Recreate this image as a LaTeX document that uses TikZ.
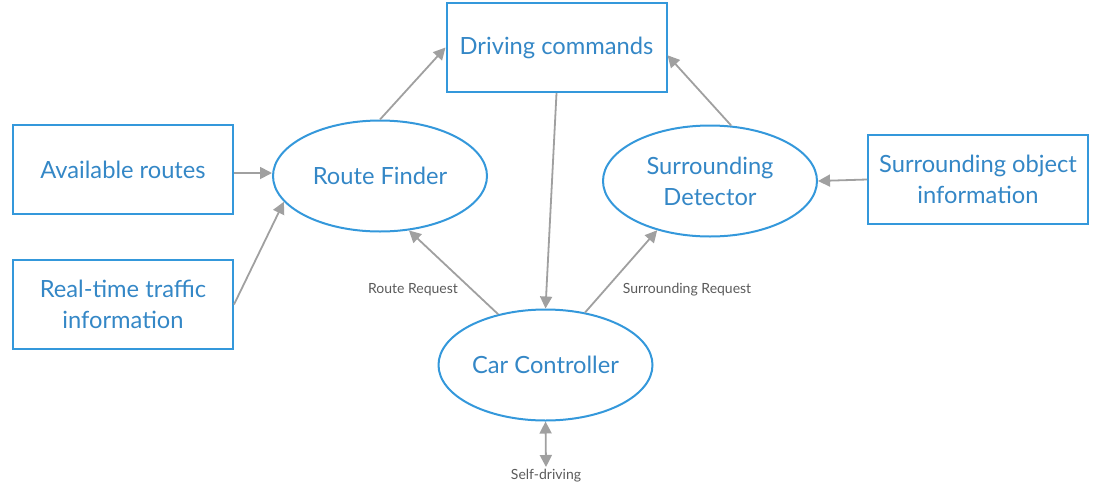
\documentclass[tikz,border=0pt]{standalone}
\usepackage{fontspec}
\setmainfont{Lato}
\usepackage{xcolor}
\usepackage{tikz}
\usetikzlibrary{arrows.meta,positioning,calc,shapes.geometric}
\definecolor{lineblue}{HTML}{3498DB}
\definecolor{textblue}{HTML}{3487C6}
\definecolor{arrowgray}{HTML}{A0A0A0}
\definecolor{labelgray}{HTML}{5A5A5A}
\tikzset{box/.style={draw=lineblue,line width=2pt,minimum width=220pt,minimum height=89pt,
    text=textblue,font=\fontsize{23.7}{31}\selectfont,align=center,inner sep=0pt}}
\tikzset{proc/.style={ellipse,draw=lineblue,line width=2pt,minimum width=214pt,minimum height=111pt,
    text=textblue,font=\fontsize{23.7}{31}\selectfont,align=center,inner sep=0pt}}
\tikzset{lbl/.style={text=labelgray,font=\fontsize{14}{16}\selectfont,inner sep=1pt}}

\begin{document}
\begin{tikzpicture}[x=1pt, y=-1pt, ->, >={Triangle[length=12pt,width=12pt]}, arrowgray, line width=1.8pt]
    \useasboundingbox (0,0) rectangle (1097,485);
    \node[box] (dc) at (556.5,47.5) {Driving commands};
    \node[box] (avail) at (123,169.5) {Available routes};
    \node[box] (rt) at (123,304.5) {Real-time traffic\\information};
    \node[box] (so) at (978,179.5) {Surrounding object\\information};

    \node[proc] (rf) at (380,176) {Route Finder};
    \node[proc] (sd) at (710,181) {Surrounding\\Detector};
    \node[proc] (cc) at (545.5,365) {Car Controller};

    \node[lbl] (rreq) at (413,290) {Route Request};
    \node[lbl] (sreq) at (687,290) {Surrounding Request};
    \node[lbl,anchor=north] (self) at (546,467) {Self-driving};

    \draw (avail.east |- 0,173) -- (rf.west |- 0,173);
    \draw (rt.east) -- (rf.195);
    \draw (rf.north) -- (dc.west);
    \draw (dc.south) -- (cc.north);
    \draw (cc.133) -- (rf.298);
    \draw (cc.53) -- (sd.223);
    \draw (sd.69) -- (dc.-4);
    \draw (so.west) -- (sd.east);
    \draw[<->] (cc.south) -- (self.north);
\end{tikzpicture}
\end{document}
